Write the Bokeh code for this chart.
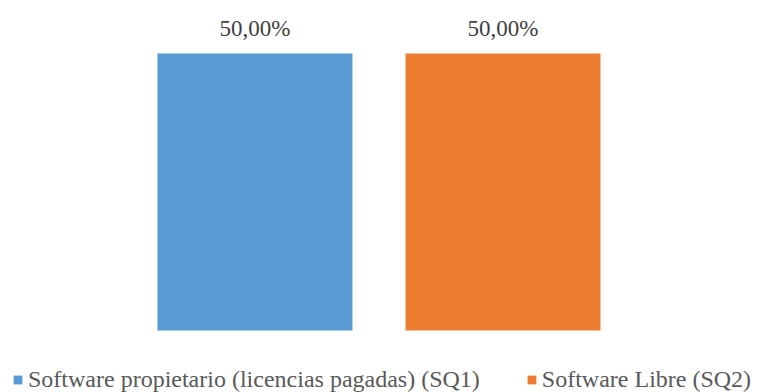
from bokeh.plotting import figure
from bokeh.models import ColumnDataSource, FactorRange, Range1d, Legend, LegendItem
from bokeh.core.properties import value
from bokeh.embed import file_html
from bokeh.resources import INLINE

# Survey answers: share of respondents per software type
categories = ["Software propietario (licencias pagadas) (SQ1)", "Software Libre (SQ2)"]
shares = [0.50, 0.50]
colors = ["#5B9BD5", "#ED7D31"]
labels = ["50,00%", "50,00%"]

FONT = "Liberation Serif"

source = ColumnDataSource(dict(cat=categories, share=shares, color=colors, label=labels))

p = figure(
    width=757, height=392,
    x_range=FactorRange(*categories, range_padding=0.526, range_padding_units="absolute"),
    y_range=Range1d(-0.1119, 0.5957),
    output_backend="svg", toolbar_location=None,
    min_border_left=0, min_border_right=0, min_border_top=0, min_border_bottom=0,
)
p.outline_line_color = None
p.xaxis.visible = False
p.yaxis.visible = False
p.xgrid.visible = False
p.ygrid.visible = False
p.background_fill_color = "white"
p.border_fill_color = "white"

bars = p.vbar(x="cat", top="share", bottom=0, width=0.786, color="color", line_color=None, source=source)

p.text(x="cat", y="share", text="label", source=source,
       text_font=value(FONT), text_font_size="23px", text_color="#404040",
       text_align="center", text_baseline="alphabetic", y_offset=-25)

legend = Legend(
    items=[LegendItem(label=categories[0], renderers=[bars], index=0),
           LegendItem(label=categories[1], renderers=[bars], index=1)],
    orientation="horizontal",
    location=(12, -1),
    label_text_font=FONT, label_text_font_size="24px", label_text_color="#595959",
    glyph_width=11, glyph_height=11, label_standoff=5, spacing=46,
    padding=0, margin=0, border_line_color=None, background_fill_alpha=0,
)
p.add_layout(legend, "center")

open("out.html", "w").write(file_html(p, INLINE))
